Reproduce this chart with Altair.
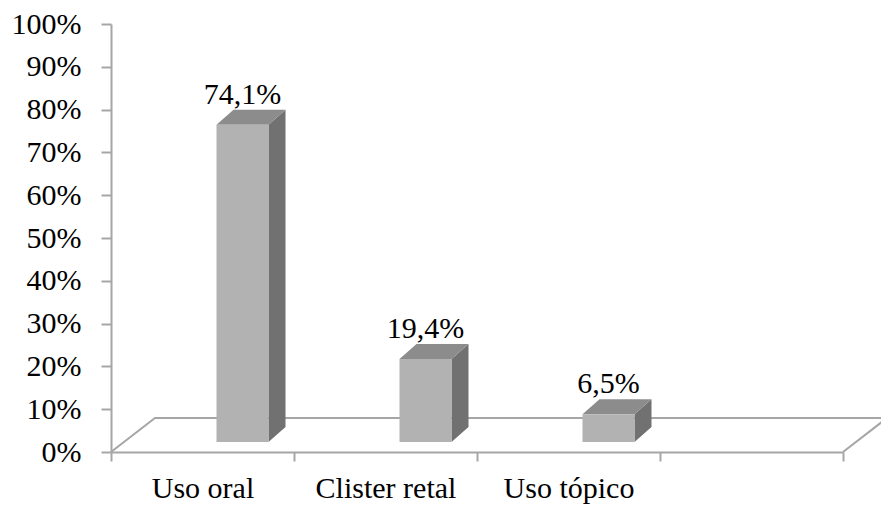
import altair as alt
import pandas as pd

categories = ["Uso oral", "Clister retal", "Uso tópico"]
values = [74.1, 19.4, 6.5]
n_slots = 4  # the category axis has one extra empty slot
y_ticks = [0, 10, 20, 30, 40, 50, 60, 70, 80, 90, 100]

W, H = 732, 428
UX = n_slots / W      # data units per pixel (x)
UY = 100 / H          # data units per pixel (y)

FRONT = "#b2b2b2"
TOP = "#8c8c8c"
SIDE = "#717171"
LINE = "#a6a6a6"
FONT = "Liberation Serif"
FS = 30

base = 10 * UY
ddx, ddy = 17 * UX, 15 * UY
shift, half = 40 * UX, 26 * UX

front_rows, side_rows, top_rows, label_rows = [], [], [], []
for i, (c, v) in enumerate(zip(categories, values)):
    cx = i + 0.5 + shift
    x0, x1 = cx - half, cx + half
    yb, yt = base, v + base
    front_rows.append(dict(cat=c, x0=x0, x1=x1, y0=yb, y1=yt))
    side_rows += [dict(cat=c, x=x1, y=yb, y2=yt),
                  dict(cat=c, x=x1 + ddx, y=yb + ddy, y2=yt + ddy)]
    top_rows += [dict(cat=c, x=x0, y=yt, y2=yt),
                 dict(cat=c, x=x0 + ddx, y=yt, y2=yt + ddy),
                 dict(cat=c, x=x1, y=yt, y2=yt + ddy),
                 dict(cat=c, x=x1 + ddx, y=yt + ddy, y2=yt + ddy)]
    label_rows.append(dict(cat=c, x=cx, y=yt + ddy,
                           label=f"{v:.1f}".replace(".", ",") + "%"))

fdx, fdy = 44 * UX, 34 * UY
floor = pd.DataFrame([
    dict(o=0, x=0, y=0), dict(o=1, x=fdx, y=fdy),
    dict(o=2, x=n_slots + fdx, y=fdy), dict(o=3, x=n_slots, y=0)])

xs = alt.Scale(domain=[0, n_slots], nice=False, zero=False)
ys = alt.Scale(domain=[0, 100], nice=False)

cat_js = "[" + ",".join("'" + c + "'" for c in categories) + "]"
x_axis = alt.Axis(
    values=[k / 2 for k in range(0, 2 * n_slots + 1)],
    labelExpr=f"datum.value % 1 == 0 ? '' : ({cat_js}[floor(datum.value)] || '')",
    tickColor={"condition": {"test": "datum.value % 1 == 0", "value": LINE}, "value": "transparent"},
    tickSize=9, tickWidth=2, domainColor=LINE, domainWidth=2,
    labelFont=FONT, labelFontSize=FS, labelColor="black", labelPadding=12,
    labelBaseline="top", title=None, grid=False, labelOverlap=False, labelFlush=False)
y_axis = alt.Axis(
    values=y_ticks, labelExpr="datum.value + '%'", tickSize=10, tickWidth=2,
    tickColor=LINE, domainColor=LINE, domainWidth=2, labelFont=FONT,
    labelFontSize=FS, labelColor="black", labelPadding=20, title=None, grid=False)

floor_layer = alt.Chart(floor).mark_line(color=LINE, strokeWidth=2, clip=False).encode(
    x=alt.X("x:Q", scale=xs, axis=x_axis), y=alt.Y("y:Q", scale=ys, axis=y_axis),
    order="o:Q")

front = alt.Chart(pd.DataFrame(front_rows)).mark_rect(color=FRONT).encode(
    x=alt.X("x0:Q", scale=xs), x2="x1:Q", y=alt.Y("y0:Q", scale=ys), y2="y1:Q")

side = alt.Chart(pd.DataFrame(side_rows)).mark_area(color=SIDE, interpolate="linear").encode(
    x=alt.X("x:Q", scale=xs), y=alt.Y("y:Q", scale=ys), y2="y2:Q", detail="cat:N")

top = alt.Chart(pd.DataFrame(top_rows)).mark_area(color=TOP, interpolate="linear").encode(
    x=alt.X("x:Q", scale=xs), y=alt.Y("y:Q", scale=ys), y2="y2:Q", detail="cat:N")

labels = alt.Chart(pd.DataFrame(label_rows)).mark_text(
    font=FONT, fontSize=FS, color="black", baseline="alphabetic", align="center", dy=-6
).encode(x=alt.X("x:Q", scale=xs), y=alt.Y("y:Q", scale=ys), text="label:N")

chart = alt.layer(floor_layer, side, top, front, labels).properties(
    width=W, height=H,
    autosize=alt.AutoSizeParams(type="none"),
    padding={"left": 111, "top": 24, "right": 38, "bottom": 53},
).configure(background="white").configure_view(stroke=None, strokeWidth=0)

chart.save("out.html", embed_options={"renderer": "svg", "actions": False})
